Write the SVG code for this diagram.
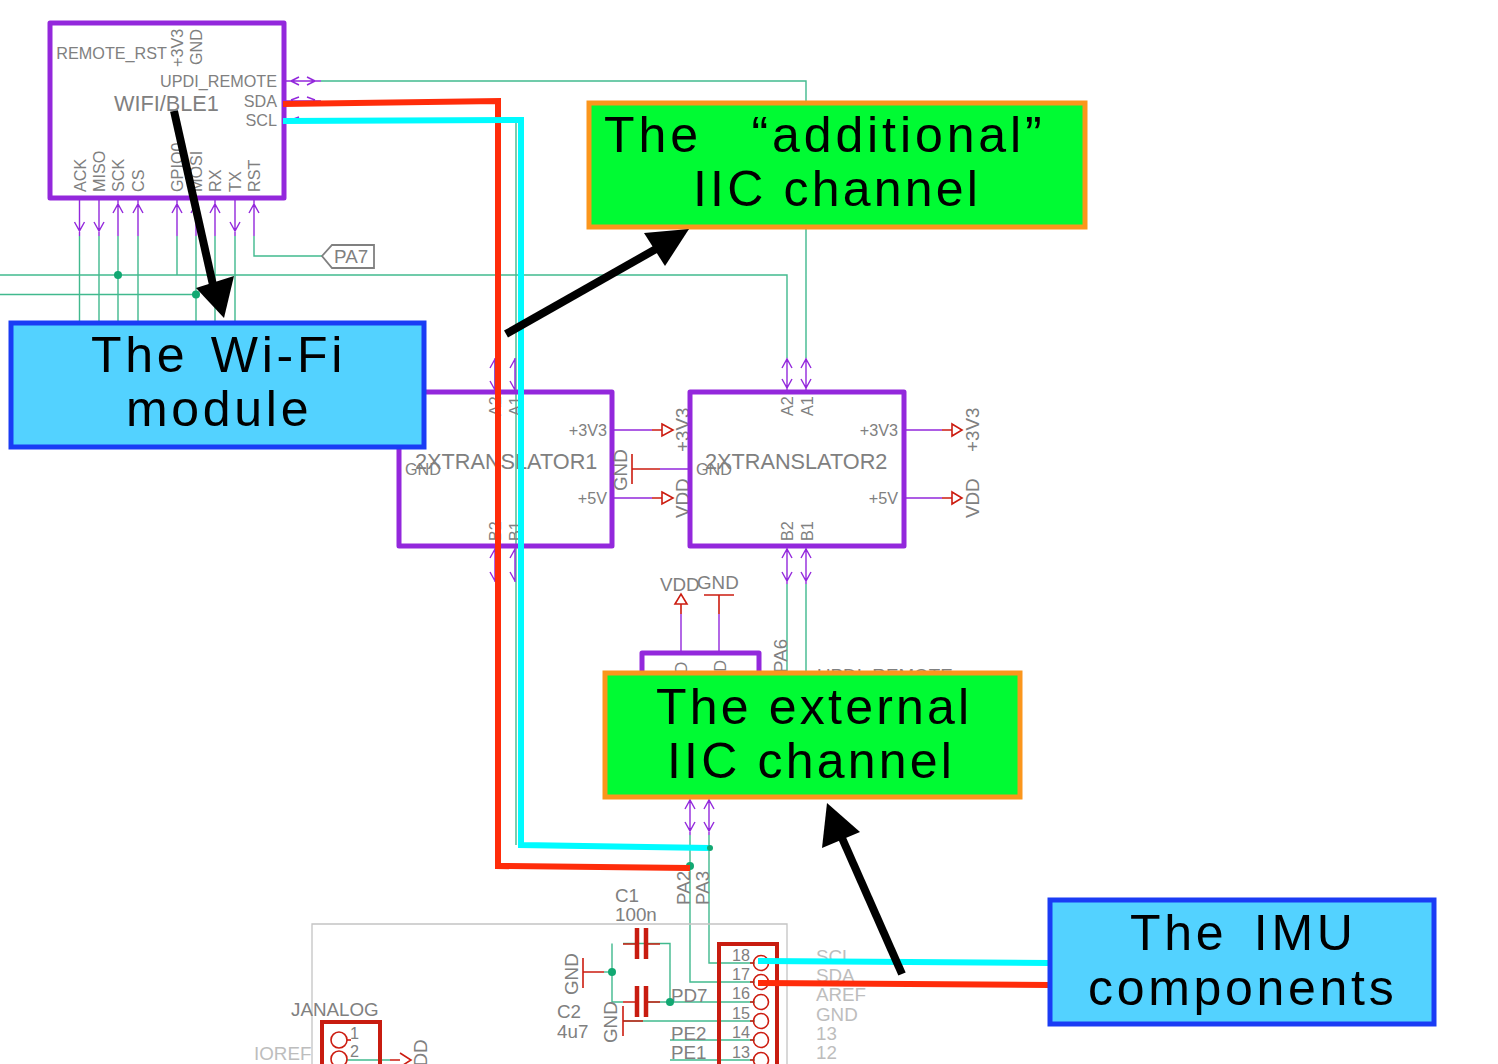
<svg xmlns="http://www.w3.org/2000/svg" width="1498" height="1064" viewBox="0 0 1498 1064">
<defs>
<style>
text{font-family:"Liberation Sans",Arial,sans-serif;fill:#808080}
.c{fill:#000;font-size:50px;letter-spacing:3.7px;word-spacing:7px;white-space:pre}
.t{letter-spacing:3.200px;word-spacing:0}
.g{fill:none;stroke:#12a872;stroke-width:1.4;opacity:.8}
.p{fill:none;stroke:#9328dc;stroke-width:1.4}
.r{fill:none;stroke:#cc1c10;stroke-width:1.6}
.pb{fill:none;stroke:#9328dc;stroke-width:5;stroke-linejoin:round}
.rb{fill:none;stroke:#c81c10;stroke-width:4}
.pl{fill:none;stroke:#c81c10;stroke-width:4.500}
.l{fill:#bdbdbd}
.jn{fill:#12a872}
.s{font-size:16.200px}
.m{font-size:21.700px}
.n{font-size:18.800px}
.blue{fill:#53d2ff;stroke:#1a3cf5;stroke-width:5}
.lime{fill:#00fb33;stroke:#fb961c;stroke-width:5}
.red{fill:none;stroke:#ff2c0a;stroke-width:6}
.cy{fill:none;stroke:#00fbff;stroke-width:6}
.bk{fill:none;stroke:#000;stroke-width:8}
</style>
</defs>
<g id="connectors">
<path class="g" d="M0 275H787V358M0 294.500H196M79.500 236V322M99 236V322M118 236V322M138 236V322M177 236V275M196 236V322M215 236V322M235 236V322M254 236V256H322M321 81H806V358M495 360V392M516 122V845M787 584V673M806 584V673M690 835V982H755M709 835V963H755M623 943.500H670V1002H755M612 943.500V1002H623M648 943.500H670M648 1002H670M623 1021H755M670 1040H755M670 1060H755M347 1060H390"/>
<path class="p" d="M285 81H321M291 81l8 -4M291 81l8 4M315 81l-8 -4M315 81l-8 4M285 101H321M291 100l8 -3M315 100l-8 -3M285 121H300M291 120l8 -3"/>
<path class="p" d="M79.500 200V236M74.500 222l5 9 5 -9M99 200V236M94 222l5 9 5 -9M118 200V236M113 213l5 -9 5 9M138 200V236M133 213l5 -9 5 9M177 200V236M172 213l5 -9 5 9M196 200V236M191 213l5 -9M215 200V236M210 213l5 -9 5 9M235 200V236M230 222l5 9 5 -9M254 200V236M249 213l5 -9 5 9"/>
<path class="p" d="M495 358V392M490 368l5 -9 M490 381l5 9M515 358V392M510 368l5 -9M510 381l5 9M787 358V390M782 368l5 -9 5 9M782 379l5 9 5 -9M806 358V390M801 368l5 -9 5 9M801 379l5 9 5 -9M495 548V582M490 558l5 -9M490 572l5 9M515 548V582M510 558l5 -9M510 572l5 9M787 548V584M782 558l5 -9 5 9M782 572l5 9 5 -9M806 548V584M801 558l5 -9 5 9M801 572l5 9 5 -9M690 799V835M685 809l5 -9 5 9M685 822l5 9 5 -9M709 799V835M704 809l5 -9 5 9M704 822l5 9 5 -9"/>
<path class="p" d="M614 430H652M614 498H652M660 469H692M906 430H942M906 498H942M681 652V614M719 652V614"/>
<path class="r" d="M652 430H662M662 424l11 6 -11 6zM652 498H662M662 492l11 6 -11 6zM632 469H660M632 454V484M942 430H952M952 424l10 6 -10 6zM942 498H952M952 492l10 6 -10 6zM681 614V604M675 604l6 -10 6 10zM719 614V595M704 595H734M604 972H583M583 958V988M623 1021H643M623 1006V1036M637 944H623M646 944H660M637 1002H623M646 1002H660M390 1060H400M400 1053l11 7 -11 7"/>
<path class="g" d="M604 972H612"/>
</g>
<g id="wifi-ble1">
<rect class="pb" x="50" y="23" width="234" height="175"/>
<text class="s" x="167" y="58.500" text-anchor="end">REMOTE_RST</text>
<text class="s" x="277" y="87" text-anchor="end">UPDI_REMOTE</text>
<text class="s" x="277" y="107" text-anchor="end">SDA</text>
<text class="s" x="277" y="126" text-anchor="end">SCL</text>
<text class="m" x="114" y="111">WIFI/BLE1</text>
<text class="s" transform="translate(183 67) rotate(-90)">+3V3</text>
<text class="s" transform="translate(202 65) rotate(-90)">GND</text>
<text class="s" transform="translate(85.500 192) rotate(-90)">ACK</text>
<text class="s" transform="translate(105 192) rotate(-90)">MISO</text>
<text class="s" transform="translate(124 192) rotate(-90)">SCK</text>
<text class="s" transform="translate(144 192) rotate(-90)">CS</text>
<text class="s" transform="translate(183 192) rotate(-90)">GPIO0</text>
<text class="s" transform="translate(202 192) rotate(-90)">MOSI</text>
<text class="s" transform="translate(221 192) rotate(-90)">RX</text>
<text class="s" transform="translate(241 192) rotate(-90)">TX</text>
<text class="s" transform="translate(260 192) rotate(-90)">RST</text>
</g>
<g id="pa7"><path d="M322 256L332 245H374V268H332Z" fill="#fff" stroke="#808080" stroke-width="1.800"/><text class="n" x="334" y="262.500">PA7</text></g>
<g id="translator1">
<rect class="pb" x="399" y="392" width="213" height="154"/>
<text class="m" x="415" y="469">2XTRANSLATOR1</text>
<text class="s" x="405" y="475">GND</text>
<text class="s" x="607" y="436" text-anchor="end">+3V3</text>
<text class="s" x="607" y="504" text-anchor="end">+5V</text>
<text class="s" transform="translate(501 416) rotate(-90)">A2</text>
<text class="s" transform="translate(521 416) rotate(-90)">A1</text>
<text class="s" transform="translate(501 541) rotate(-90)">B2</text>
<text class="s" transform="translate(521 541) rotate(-90)">B1</text>
<text class="n" transform="translate(627 491) rotate(-90)">GND</text>
<text class="n" transform="translate(689 452) rotate(-90)">+3V3</text>
<text class="n" transform="translate(689 518) rotate(-90)">VDD</text>
</g>
<g id="translator2">
<rect class="pb" x="690" y="392" width="214" height="154"/>
<text class="m" x="705" y="469">2XTRANSLATOR2</text>
<text class="s" x="696" y="475">GND</text>
<text class="s" x="898" y="436" text-anchor="end">+3V3</text>
<text class="s" x="898" y="504" text-anchor="end">+5V</text>
<text class="s" transform="translate(793 416) rotate(-90)">A2</text>
<text class="s" transform="translate(813 416) rotate(-90)">A1</text>
<text class="s" transform="translate(793 541) rotate(-90)">B2</text>
<text class="s" transform="translate(813 541) rotate(-90)">B1</text>
<text class="n" transform="translate(979 452) rotate(-90)">+3V3</text>
<text class="n" transform="translate(979 518) rotate(-90)">VDD</text>
</g>
<g id="lower-chip">
<path class="pb" d="M642 673V653H759V673"/>
<text class="s" transform="translate(687 696) rotate(-90)">VDD</text>
<text class="s" transform="translate(726 696) rotate(-90)">GND</text>
<text class="n" x="660" y="591">VDD</text>
<text class="n" x="697" y="589">GND</text>
<text class="n" transform="translate(787 673) rotate(-90)">PA6</text>
<text class="n" x="817" y="682">UPDI_REMOTE</text>
</g>
<g id="board">
<path fill="none" stroke="#c4c4c4" stroke-width="1.300" d="M312 1064V924H787V1064"/>
<text class="n" x="291" y="1016">JANALOG</text>
<text class="n l" x="254" y="1060">IOREF</text>
<path class="rb" d="M322 1066V1022H380V1066"/>
<path class="r" d="M347 1040H351"/>
<circle class="r" cx="339" cy="1040" r="8"/><circle class="r" cx="339" cy="1059" r="8"/>
<text class="s" x="350" y="1039">1</text><text class="s" x="350" y="1057">2</text>
<text class="n" transform="translate(427 1079) rotate(-90)">VDD</text>
<text class="n" x="615" y="902">C1</text><text class="n" x="615" y="921">100n</text>
<text class="n" x="557" y="1018">C2</text><text class="n" x="557" y="1038">4u7</text>
<text class="n" transform="translate(578 995) rotate(-90)">GND</text>
<text class="n" transform="translate(617 1043) rotate(-90)">GND</text>
<text class="n" x="671" y="1002">PD7</text><text class="n" x="671" y="1040">PE2</text><text class="n" x="671" y="1059">PE1</text>
<text class="n" transform="translate(690 905) rotate(-90)">PA2</text>
<text class="n" transform="translate(709 905) rotate(-90)">PA3</text>
<path class="pl" d="M637 928V959M646 928V959M637 986V1017M646 986V1017"/>
<circle class="jn" cx="612" cy="972" r="4"/><circle class="jn" cx="670" cy="1002" r="4"/><circle class="jn" cx="690" cy="866" r="4"/>
<path class="rb" d="M719 1066V944H777V1066"/>
<g class="r"><circle cx="761" cy="963" r="7.500"/><circle cx="761" cy="982" r="7.500"/><circle cx="761" cy="1002" r="7.500"/><circle cx="761" cy="1021" r="7.500"/><circle cx="761" cy="1040" r="7.500"/><circle cx="761" cy="1060" r="7.500"/></g>
<path class="r" d="M750 963H754M750 982H754M750 1002H754M750 1021H754M750 1040H754M750 1060H754"/>
<g class="s"><text x="732" y="961">18</text><text x="732" y="980">17</text><text x="732" y="999">16</text><text x="732" y="1019">15</text><text x="732" y="1038">14</text><text x="732" y="1058">13</text></g>
<g class="n"><text class="l" x="816" y="963">SCL</text><text class="l" x="816" y="982">SDA</text><text class="l" x="816" y="1001">AREF</text><text class="l" x="816" y="1021">GND</text><text class="l" x="816" y="1040">13</text><text class="l" x="816" y="1059">12</text></g>
<circle class="jn" cx="118" cy="275" r="4"/><circle class="jn" cx="196" cy="294.500" r="4"/>
</g>
<g id="overlay-lines">
<path class="red" d="M283 104L498 101V866L690 868M758 983L1050 985"/>
<path class="cy" d="M283 121L521 120V845L710 848M758 961L1050 963"/>
<circle cx="710" cy="848" r="3" fill="#12a872"/>
</g>
<g id="callout-additional"><rect class="lime" x="589" y="103" width="496" height="124"/><text class="c" x="604" y="152" style="letter-spacing:3.900px">The  “additional”</text><text class="c t" x="693" y="206">IIC channel</text></g>
<g id="callout-wifi"><rect class="blue" x="11" y="323" width="413" height="124"/><text class="c" x="91" y="372" style="word-spacing:5px">The Wi-Fi</text><text class="c" x="126" y="426">module</text></g>
<g id="callout-external"><rect class="lime" x="605" y="673" width="415" height="124"/><text class="c t" x="656" y="724">The external</text><text class="c t" x="667" y="778">IIC channel</text></g>
<g id="callout-imu"><rect class="blue" x="1050" y="900" width="384" height="124"/><text class="c" x="1130" y="950" style="word-spacing:9px">The IMU</text><text class="c" x="1088" y="1005">components</text></g>
<g id="arrows">
<path class="bk" d="M174 111L213 285"/><path d="M196 288L234 276L224 318Z"/>
<path class="bk" d="M506 334L656 249"/><path d="M644 233L689 229L665 266Z"/>
<path class="bk" d="M902 974L842 838"/><path d="M822 848L827 803L860 832Z"/>
</g>
</svg>
